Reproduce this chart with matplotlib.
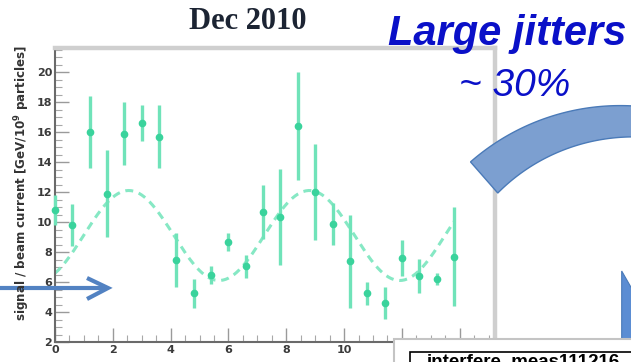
import numpy as np
import matplotlib
matplotlib.use("Agg")
import matplotlib.pyplot as plt
from matplotlib.patches import Polygon, Rectangle
from matplotlib.ticker import MultipleLocator

# ---- measurements: signal / beam current vs time ----
hours = [0.0, 0.6, 1.2, 1.8, 2.4, 3.0, 3.6, 4.2, 4.8, 5.4, 6.0, 6.6,
         7.2, 7.8, 8.4, 9.0, 9.6, 10.2, 10.8, 11.4, 12.0, 12.6, 13.2, 13.8]
signal = [10.8, 9.8, 16.0, 11.9, 15.9, 16.6, 15.7, 7.5, 5.25, 6.5, 8.7, 7.05,
          10.7, 10.35, 16.4, 12.0, 9.9, 7.4, 5.25, 4.6, 7.6, 6.4, 6.2, 7.7]
signal_err = [1.0, 1.4, 2.4, 2.9, 2.1, 1.2, 2.1, 1.8, 0.95, 0.6, 0.6, 0.75,
              1.8, 3.2, 3.6, 3.2, 1.4, 3.1, 0.75, 1.05, 1.2, 1.15, 0.4, 3.3]

# periodic fit: mean, amplitude, period, position of a maximum
fit_mean, fit_amp, fit_period, fit_peak = 9.1, 3.0, 6.25, 2.55

x_ticks = [0, 2, 4, 6, 8, 10, 12, 14]
x_tick_labels = ["0", "2", "4", "6", "8", "10", "", ""]  # 12 and 14 sit under the inset canvas
y_ticks = [2, 4, 6, 8, 10, 12, 14, 16, 18, 20]

title_text = "Dec 2010"
ylabel_text = r"signal / beam current [GeV/10$^{\mathbf{9}}$ particles]"
note_line1 = "Large jitters"
note_line2 = "~ 30%"
inset_title = "interfere_meas111216"

W, H = 631, 362
fig = plt.figure(figsize=(W / 100, H / 100), dpi=100)
fig.patch.set_facecolor("white")

# main ROOT-style frame (pixel geometry converted to figure fractions)
L, R, T, B = 55, 495, 48, 342
ax = fig.add_axes([L / W, (H - B) / H, (R - L) / W, (B - T) / H])
ax.set_xlim(0, 15.22)
ax.set_ylim(2, 21.6)

mark_c = "#3ad39c"
bar_c = "#70e3b9"
dash_c = "#86e8c4"

xf = np.linspace(hours[0], hours[-1], 300)
yf = fit_mean + fit_amp * np.cos(2 * np.pi * (xf - fit_peak) / fit_period)
ax.plot(xf, yf, ls=(0, (2.6, 1.9)), color=dash_c, lw=2.2, zorder=2)

ax.errorbar(hours, signal, yerr=signal_err, fmt="o", color=mark_c, ecolor=bar_c,
            elinewidth=2.4, ms=4.5, capsize=0, zorder=3, clip_on=False)

ax.set_xticks(x_ticks)
ax.set_xticklabels(x_tick_labels)
ax.set_yticks(y_ticks)
ax.xaxis.set_minor_locator(MultipleLocator(0.5))
ax.yaxis.set_minor_locator(MultipleLocator(0.5))
ax.tick_params(which="major", direction="in", length=10, width=1, color="#9a9a9a",
               labelsize=8, labelcolor="#3a3a3a", pad=2)
ax.tick_params(which="minor", direction="in", length=5, width=0.8, color="#a8a8a8")
for lab in ax.get_xticklabels() + ax.get_yticklabels():
    lab.set_fontweight("bold")

for side in ("left", "bottom"):
    ax.spines[side].set_color("#6a6a6a")
    ax.spines[side].set_linewidth(1.5)
for side in ("top", "right"):
    ax.spines[side].set_color("#cfcfcf")
    ax.spines[side].set_linewidth(3.2)

# ---- slide overlay in pixel coordinates ----
ov = fig.add_axes([0, 0, 1, 1], zorder=5)
ov.set_xlim(0, W)
ov.set_ylim(H, 0)
ov.axis("off")
ov.patch.set_alpha(0)

ov.text(247.5, 29, title_text, ha="center", va="baseline", fontsize=22,
        fontweight="bold", family="Liberation Serif", color="#1c2433")

ov.text(22, 183, ylabel_text, rotation=90, ha="center", va="center",
        fontsize=8.6, fontweight="bold", color="#333333")

blue_txt = "#0a10c8"
ov.text(507.5, 45, note_line1, ha="center", va="baseline", fontsize=30,
        fontweight="bold", style="italic", family="Liberation Sans", color=blue_txt)
ov.text(515, 96.5, note_line2, ha="center", va="baseline", fontsize=28,
        style="italic", family="Liberation Sans", color=blue_txt)

# straight arrow on the left
arrow_c = "#5282c2"
ov.plot([0, 106], [288, 288], color=arrow_c, lw=3, solid_capstyle="butt")
ov.plot([87, 108, 87], [278, 288, 299], color=arrow_c, lw=3,
        solid_joinstyle="miter", solid_capstyle="butt")

# curved band arrow on the right
cx, cy = 620.3, 333.0
phi = np.radians(np.linspace(131.2, 80.0, 120))
r_out = 227.4
r_in = np.linspace(186.0, 198.0, phi.size)
outer = np.column_stack([cx + r_out * np.cos(phi), cy - r_out * np.sin(phi)])
inner = np.column_stack([cx + r_in * np.cos(phi), cy - r_in * np.sin(phi)])[::-1]
ov.add_patch(Polygon(np.vstack([outer, inner]), closed=True, facecolor="#7c9fd0",
                     edgecolor="#4a7ab8", lw=1.0))

# arrow head entering from the right edge
ov.add_patch(Polygon([(621.7, 271), (640, 303), (640, 345), (621.7, 345)],
                     closed=True, facecolor="#5b8dd3", edgecolor="#4a7ab8", lw=0.8))

# second canvas overlapping the bottom right
ov.add_patch(Rectangle((394, 339), 260, 40, facecolor="white",
                       edgecolor="#c4c4c4", lw=1.5))
ov.add_patch(Rectangle((410, 351.5), 250, 40, facecolor="white",
                       edgecolor="black", lw=1.2))
ov.text(427, 366, inset_title, ha="left", va="baseline", fontsize=13.5,
        fontweight="bold", family="Liberation Sans", color="black")

fig.savefig("out.png", dpi=100)
